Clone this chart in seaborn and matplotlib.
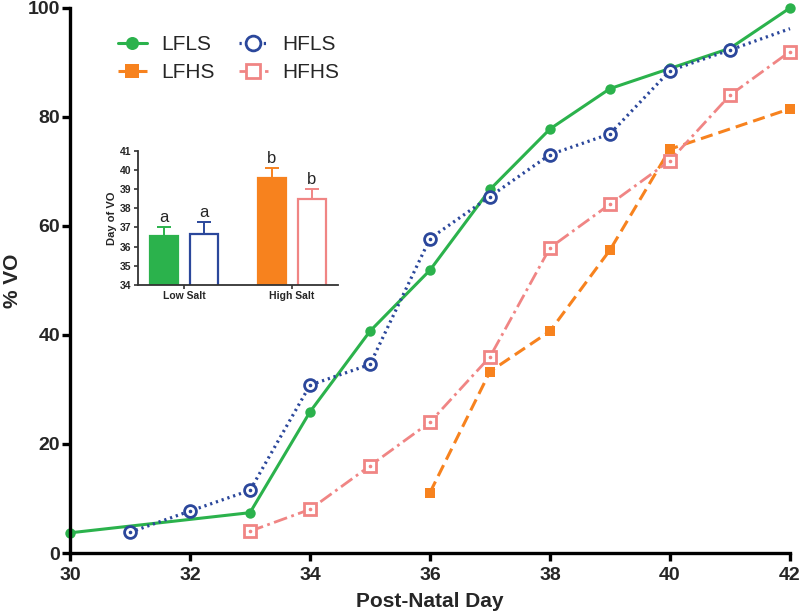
import numpy as np
import pandas as pd
import matplotlib
matplotlib.use('Agg')
import matplotlib.pyplot as plt
import seaborn as sns

# cumulative % VO by post-natal day
lfls_day = [30, 33, 34, 35, 36, 37, 38, 39, 40, 41, 42]
lfls_pct = [3.7, 7.4, 25.9, 40.7, 51.9, 66.7, 77.8, 85.2, 88.9, 92.6, 100.0]

hfls_day = [31, 32, 33, 34, 35, 36, 37, 38, 39, 40, 41, 42]
hfls_pct = [3.8, 7.7, 11.5, 30.8, 34.6, 57.7, 65.4, 73.1, 76.9, 88.5, 92.3, 96.2]

lfhs_day = [36, 37, 38, 39, 40, 42]
lfhs_pct = [11.1, 33.3, 40.7, 55.6, 74.1, 81.5]

hfhs_day = [33, 34, 35, 36, 37, 38, 39, 40, 41, 42]
hfhs_pct = [4.0, 8.0, 16.0, 24.0, 36.0, 56.0, 64.0, 72.0, 84.0, 92.0]

# inset: mean day of VO +/- SEM
salt = ['Low Salt', 'Low Salt', 'High Salt', 'High Salt']
fat = ['Low Fat', 'High Fat', 'Low Fat', 'High Fat']
day_vo = [36.55, 36.66, 39.56, 38.48]
sem_vo = [0.49, 0.61, 0.55, 0.54]
letters = ['a', 'a', 'b', 'b']

green = '#2bb24c'
blue = '#2b479b'
orange = '#f7821e'
pink = '#f08584'

sns.set_style('ticks')
plt.rcParams['font.family'] = ['Liberation Sans', 'DejaVu Sans']

fig = plt.figure(figsize=(8, 6.12), dpi=100)
ax = fig.add_axes([0.0875, 0.0964, 0.9, 0.8906])

sns.lineplot(x=lfls_day, y=lfls_pct, ax=ax, color=green, linestyle='-', lw=2.2,
             marker='o', markersize=7.5, markeredgewidth=0, label='LFLS', clip_on=False)
sns.lineplot(x=lfhs_day, y=lfhs_pct, ax=ax, color=orange, linestyle=(0, (4, 2)), lw=2.2,
             marker='s', markersize=7.5, markeredgewidth=0, label='LFHS', clip_on=False)
sns.lineplot(x=hfls_day, y=hfls_pct, ax=ax, color=blue, linestyle=(0, (0.7, 1.2)), lw=2.3,
             marker='o', markersize=8.5, markerfacecolor='white', markeredgecolor=blue,
             markeredgewidth=2, markevery=list(range(len(hfls_day) - 1)),
             label='HFLS', clip_on=False)
sns.lineplot(x=hfhs_day, y=hfhs_pct, ax=ax, color=pink, linestyle=(0, (5, 1.6, 1, 1.6)), lw=2.0,
             marker='s', markersize=8, markerfacecolor='white', markeredgecolor=pink,
             markeredgewidth=2, label='HFHS', clip_on=False)

# little centre dots in the open markers
ax.plot(hfls_day[:-1], hfls_pct[:-1], ls='none', marker='o', ms=1.6, color=blue, clip_on=False)
ax.plot(hfhs_day, hfhs_pct, ls='none', marker='o', ms=1.6, color=pink, clip_on=False)

ax.set_xlim(30, 42)
ax.set_ylim(0, 100)
ax.set_xticks(range(30, 43, 2))
ax.set_yticks(range(0, 101, 20))
sns.despine(ax=ax)
for s in ['left', 'bottom']:
    ax.spines[s].set_linewidth(2.4)
    ax.spines[s].set_color('black')
ax.tick_params(axis='both', width=2.4, length=6, labelsize=14, color='black')
ax.tick_params(axis='x', pad=4)
ax.tick_params(axis='y', pad=1)
for lab in ax.get_xticklabels() + ax.get_yticklabels():
    lab.set_fontweight('bold')
ax.set_xlabel('Post-Natal Day', fontsize=15, fontweight='bold', labelpad=6)
ax.set_ylabel('% VO', fontsize=15, fontweight='bold')
ax.yaxis.set_label_coords(-0.066, 0.5)

leg = ax.legend(ncol=2, loc='upper left', bbox_to_anchor=(0.04, 0.985), frameon=False,
                fontsize=15, handlelength=1.4, columnspacing=1.15, labelspacing=0.45,
                handletextpad=0.7, markerscale=1.25)

# inset bar chart
ins = fig.add_axes([0.1725, 0.5343, 0.25, 0.2195])
bars = pd.DataFrame({'salt': salt, 'fat': fat, 'day': day_vo})
sns.barplot(data=bars, x='salt', y='day', hue='fat', ax=ins, width=0.744, gap=0.29,
            errorbar=None, legend=False, bottom=0)
ins.set_ylim(34, 41)
ins.set_xlim(-0.43, 1.43)

face = [green, 'white', orange, 'white']
edge = [green, blue, orange, pink]
# barplot patches come out hue-major: Low Fat bars, then High Fat bars
order = [0, 2, 1, 3]
patches = [p for p in ins.patches]
for k, idx in enumerate(order):
    p = patches[k]
    p.set_facecolor(face[idx])
    p.set_edgecolor(edge[idx])
    p.set_linewidth(1.6)
    cx = p.get_x() + p.get_width() / 2
    ins.errorbar(cx, day_vo[idx], yerr=[[0], [sem_vo[idx]]], color=edge[idx],
                 capsize=5, elinewidth=1.4, capthick=1.4, zorder=1)
    ins.text(cx, day_vo[idx] + sem_vo[idx] + 0.1, letters[idx], ha='center', va='bottom',
             fontsize=12)

sns.despine(ax=ins)
for s in ['left', 'bottom']:
    ins.spines[s].set_linewidth(1.3)
    ins.spines[s].set_color('#333333')
ins.tick_params(axis='both', width=1.2, length=3, labelsize=7.5, pad=1.5, color='#333333')
for lab in ins.get_xticklabels() + ins.get_yticklabels():
    lab.set_fontweight('bold')
ins.set_yticks(range(34, 42))
ins.set_xlabel('')
ins.set_ylabel('Day of VO', fontsize=8, fontweight='bold', labelpad=2)

fig.savefig('out.png', dpi=100)
